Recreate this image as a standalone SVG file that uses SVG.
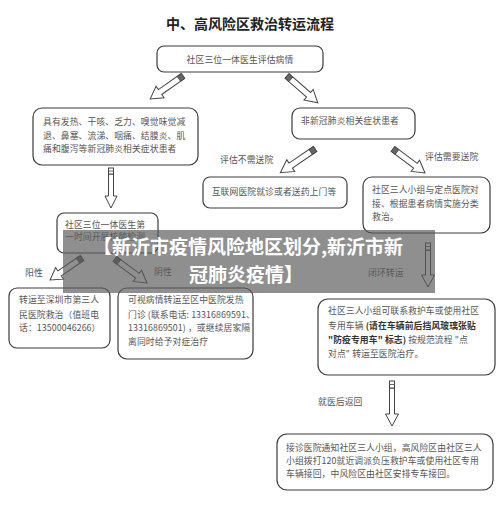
<svg xmlns="http://www.w3.org/2000/svg" xmlns:xlink="http://www.w3.org/1999/xlink" width="500" height="523" viewBox="0 0 500 523">
<style>
.bx{fill:#fff;stroke:#3a3a3a;stroke-width:1.2}
.t{font-family:"Noto Sans CJK SC","Liberation Sans",sans-serif;font-size:8.8px;fill:#555;letter-spacing:0.1px}
.b{font-weight:bold;fill:#333}
.ttl{font-family:"Noto Sans CJK SC","Liberation Sans",sans-serif;font-size:14px;font-weight:bold;fill:#222}
.ban{font-family:"Noto Sans CJK SC","Liberation Sans",sans-serif;font-size:19px;font-weight:bold;fill:#fff}
.ar{fill:#fff;stroke:#444;stroke-width:1}
</style>
<defs>
<g id="pen">
<path class="ar" d="M0,-3 L28,-3 L28,-7 L40,0 L28,7 L28,3 L0,3 Z"/>
<path d="M0,-3 L5,-3 L5,3 L0,3 Z" fill="#666" stroke="#444" stroke-width="0.8"/>
</g>
</defs>
<rect width="500" height="523" fill="#fff"/>
<text class="ttl" x="250" y="29" text-anchor="middle">中、高风险区救治转运流程</text>

<g id="connectors">
<use xlink:href="#pen" transform="translate(183,76) rotate(145.1)"/>
<use xlink:href="#pen" transform="translate(287,76) rotate(41) scale(1.02,1)"/>
<use xlink:href="#pen" transform="translate(315,149) rotate(145.6) scale(1.05,1)"/>
<use xlink:href="#pen" transform="translate(393,149) rotate(36.9)"/>
<use xlink:href="#pen" transform="translate(82,258) rotate(145.5) scale(0.97,1)"/>
<use xlink:href="#pen" transform="translate(115,259) rotate(36.9)"/>
<path class="ar" d="M108.5,174 L113.5,174 L113.5,196 L117,196 L111,208 L105,196 L108.5,196 Z"/>
<rect x="108.5" y="168" width="5" height="6" fill="#fff" stroke="#444" stroke-width="1"/>
<line x1="108.5" y1="171" x2="113.5" y2="171" stroke="#444" stroke-width="0.8"/>
<path class="ar" d="M425.5,250 L430.5,250 L430.5,275 L434.5,275 L428,287 L421.5,275 L425.5,275 Z"/>
<rect x="425.5" y="243" width="5" height="7" fill="#fff" stroke="#444" stroke-width="1"/>
<line x1="425.5" y1="246.5" x2="430.5" y2="246.5" stroke="#444" stroke-width="0.8"/>
<path class="ar" d="M389.5,388 L394.5,388 L394.5,414 L398.5,414 L392,426 L385.5,414 L389.5,414 Z"/>
<rect x="389.5" y="381" width="5" height="7" fill="#fff" stroke="#444" stroke-width="1"/>
<line x1="389.5" y1="384.5" x2="394.5" y2="384.5" stroke="#444" stroke-width="0.8"/>
<text class="t" x="220" y="163">评估不需送院</text>
<text class="t" x="425" y="160">评估需要送院</text>
<text class="t" x="25" y="276">阳性</text>
<text class="t" x="154" y="275">阴性</text>
<text class="t" x="368" y="276">闭环转运</text>
<text class="t" x="318" y="405">就医后返回</text>
</g>

<g id="n1">
<rect class="bx" x="157" y="46" width="166" height="26" rx="7"/>
<text class="t" x="240" y="63" text-anchor="middle">社区三位一体医生评估病情</text>
</g>
<g id="n2">
<rect class="bx" x="33" y="108" width="165" height="57" rx="9"/>
<text class="t" x="43" y="125">具有发热、干咳、乏力、嗅觉味觉减</text>
<text class="t" x="43" y="138.5">退、鼻塞、流涕、咽痛、结膜炎、肌</text>
<text class="t" x="43" y="152">痛和腹泻等新冠肺炎相关症状患者</text>
</g>
<g id="n3">
<rect class="bx" x="292" y="108" width="123" height="31" rx="8"/>
<text class="t" x="350" y="124" text-anchor="middle">非新冠肺炎相关症状患者</text>
</g>
<g id="n4">
<rect class="bx" x="203" y="177" width="144" height="31" rx="7"/>
<text class="t" x="274" y="195" text-anchor="middle">互联网医院就诊或者送药上门等</text>
</g>
<g id="n5">
<rect class="bx" x="363" y="177" width="127" height="56" rx="9"/>
<text class="t" x="372" y="193">社区三人小组与定点医院对</text>
<text class="t" x="372" y="206.5">接、根据患者病情实施分类</text>
<text class="t" x="372" y="220">救治。</text>
</g>
<g id="n6">
<rect class="bx" x="57" y="213" width="101" height="40" rx="7"/>
<text class="t" x="65" y="228">社区三位一体医生第</text>
<text class="t" x="65" y="240">一时间开展核酸检测</text>
</g>
<g id="n7">
<rect class="bx" x="9" y="288" width="101" height="60" rx="8"/>
<text class="t" x="19" y="303">转运至深圳市第三人</text>
<text class="t" x="19" y="318">民医院救治（值班电</text>
<text class="t" x="19" y="331">话：13500046266）</text>
</g>
<g id="n8">
<rect class="bx" x="118" y="288" width="135" height="71" rx="9"/>
<text class="t" x="128" y="303">可视病情转运至区中医院发热</text>
<text class="t" x="128" y="318">门诊 (联系电话: 13316869591、</text>
<text class="t" x="128" y="331">13316869501) ，或继续居家隔</text>
<text class="t" x="128" y="345">离同时给予对症治疗</text>
</g>
<g id="n9">
<rect class="bx" x="318" y="299" width="177" height="76" rx="10"/>
<text class="t" x="328" y="314">社区三人小组可联系救护车或使用社区</text>
<text class="t" x="328" y="329">专用车辆 <tspan class="b">(请在车辆前后挡风玻璃张贴</tspan></text>
<text class="t" x="328" y="343"><tspan class="b">"防疫专用车" 标志)</tspan> 按规范流程 "点</text>
<text class="t" x="328" y="357">对点" 转运至医院治疗。</text>
</g>
<g id="n10">
<rect class="bx" x="277" y="434" width="216" height="56" rx="10"/>
<text class="t" x="286" y="451">接诊医院通知社区三人小组，高风险区由社区三人</text>
<text class="t" x="286" y="464">小组拨打120就近调派负压救护车或使用社区专用</text>
<text class="t" x="286" y="477">车辆接回，中风险区由社区安排专车接回。</text>
</g>

<g id="banner">
<rect x="63" y="230" width="372" height="63" fill="#5a5a5a" fill-opacity="0.68"/>
<text class="ban" x="248" y="254" text-anchor="middle">【新沂市疫情风险地区划分,新沂市新</text>
<text class="ban" x="246" y="282" text-anchor="middle">冠肺炎疫情】</text>
</g>
</svg>
